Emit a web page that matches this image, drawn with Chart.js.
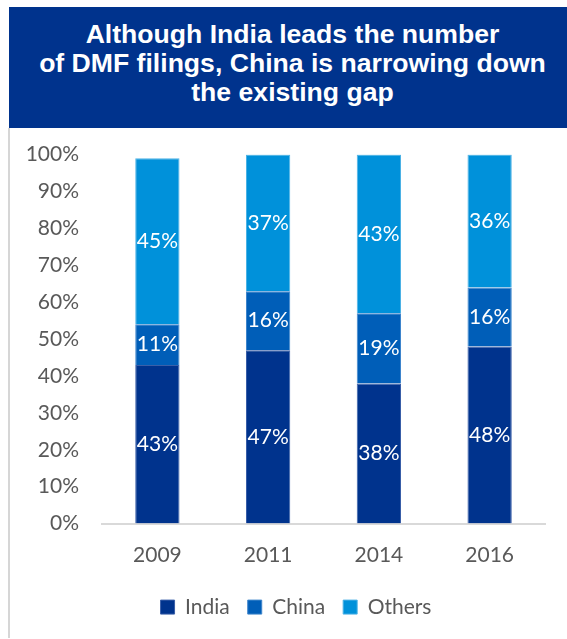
<!DOCTYPE html>
<html>
<head>
<meta charset="utf-8">
<script src="https://cdn.jsdelivr.net/npm/chart.js@4"></script>
<style>
  html, body { margin: 0; padding: 0; background: #fff; }
  body { width: 567px; height: 639px; position: relative; overflow: hidden; }
  .header {
    position: absolute; left: 9px; top: 7px; width: 558px; height: 121px;
    background: #00338D; color: #fff; box-sizing: border-box;
    padding: 13px 0 0 9px; text-align: center; white-space: nowrap;
    font: bold 26.6px "Liberation Sans", Arial, sans-serif; line-height: 29px;
  }
  .side { position: absolute; left: 8px; top: 128px; width: 2px; height: 510px; background: #d6d6d6; }
  .wrap { position: absolute; left: 0; top: 119px; width: 567px; height: 520px; }
</style>
</head>
<body>
<div class="header">Although India leads the number<br>of DMF filings, China is narrowing down<br>the existing gap</div>
<div class="side"></div>
<div class="wrap"><canvas id="dmfChart"></canvas></div>
<script>
// share of DMF filings by country (%)
const years = ['2009', '2011', '2014', '2016'];
const india = [43, 47, 38, 48];
const china = [11, 16, 19, 16];
const others = [45, 37, 43, 36];

const tickColor = '#595959';
const labelFont = { family: 'Lato', size: 21 };

// white percentage labels in the middle of every segment
const segmentLabels = {
  id: 'segmentLabels',
  afterDatasetsDraw(chart) {
    const ctx = chart.ctx;
    ctx.save();
    ctx.fillStyle = '#fff';
    ctx.font = '21px Lato';
    ctx.textAlign = 'center';
    ctx.textBaseline = 'middle';
    chart.data.datasets.forEach((ds, i) => {
      chart.getDatasetMeta(i).data.forEach((bar, j) => {
        ctx.fillText(ds.data[j] + '%', bar.x, (bar.y + bar.base) / 2);
      });
    });
    ctx.restore();
  }
};

// legend row sits a little right of the canvas centre
const legendShift = {
  id: 'legendShift',
  afterLayout(chart) {
    chart.legend.left += 47;
  }
};

const ctx = document.getElementById('dmfChart').getContext('2d');

const dmfChart = new Chart(ctx, {
  type: 'bar',
  data: {
    labels: years,
    datasets: [
      { label: 'India', data: india, backgroundColor: '#00338D', borderColor: '#3a5fa8', borderWidth: 1 },
      { label: 'China', data: china, backgroundColor: '#005EB8', borderColor: '#3f86cc', borderWidth: 1 },
      { label: 'Others', data: others, backgroundColor: '#0091DA', borderColor: '#4db3e6', borderWidth: 1 }
    ]
  },
  options: {
    responsive: true,
    maintainAspectRatio: false,
    animation: false,
    layout: { padding: { top: 0, right: 22, bottom: 11.4, left: 0 } },
    datasets: { bar: { categoryPercentage: 1, barPercentage: 0.4 } },
    scales: {
      x: {
        stacked: true,
        grid: { display: false, drawTicks: false },
        border: { display: true, color: '#d9d9d9', width: 2 },
        ticks: { color: tickColor, font: labelFont, padding: 19 },
        afterFit(scale) { scale.height = 55; }
      },
      y: {
        stacked: true,
        min: 0,
        max: 100,
        grid: { display: false, drawTicks: false },
        border: { display: false },
        ticks: {
          stepSize: 10,
          color: tickColor,
          font: labelFont,
          padding: 23,
          callback: (v) => v + '%'
        },
        afterFit(scale) { scale.width = 102; }
      }
    },
    plugins: {
      legend: {
        position: 'bottom',
        labels: {
          boxWidth: 14,
          boxHeight: 14,
          color: tickColor,
          font: labelFont,
          padding: 18
        }
      },
      tooltip: { enabled: false }
    }
  },
  plugins: [segmentLabels, legendShift]
});
</script>
</body>
</html>
